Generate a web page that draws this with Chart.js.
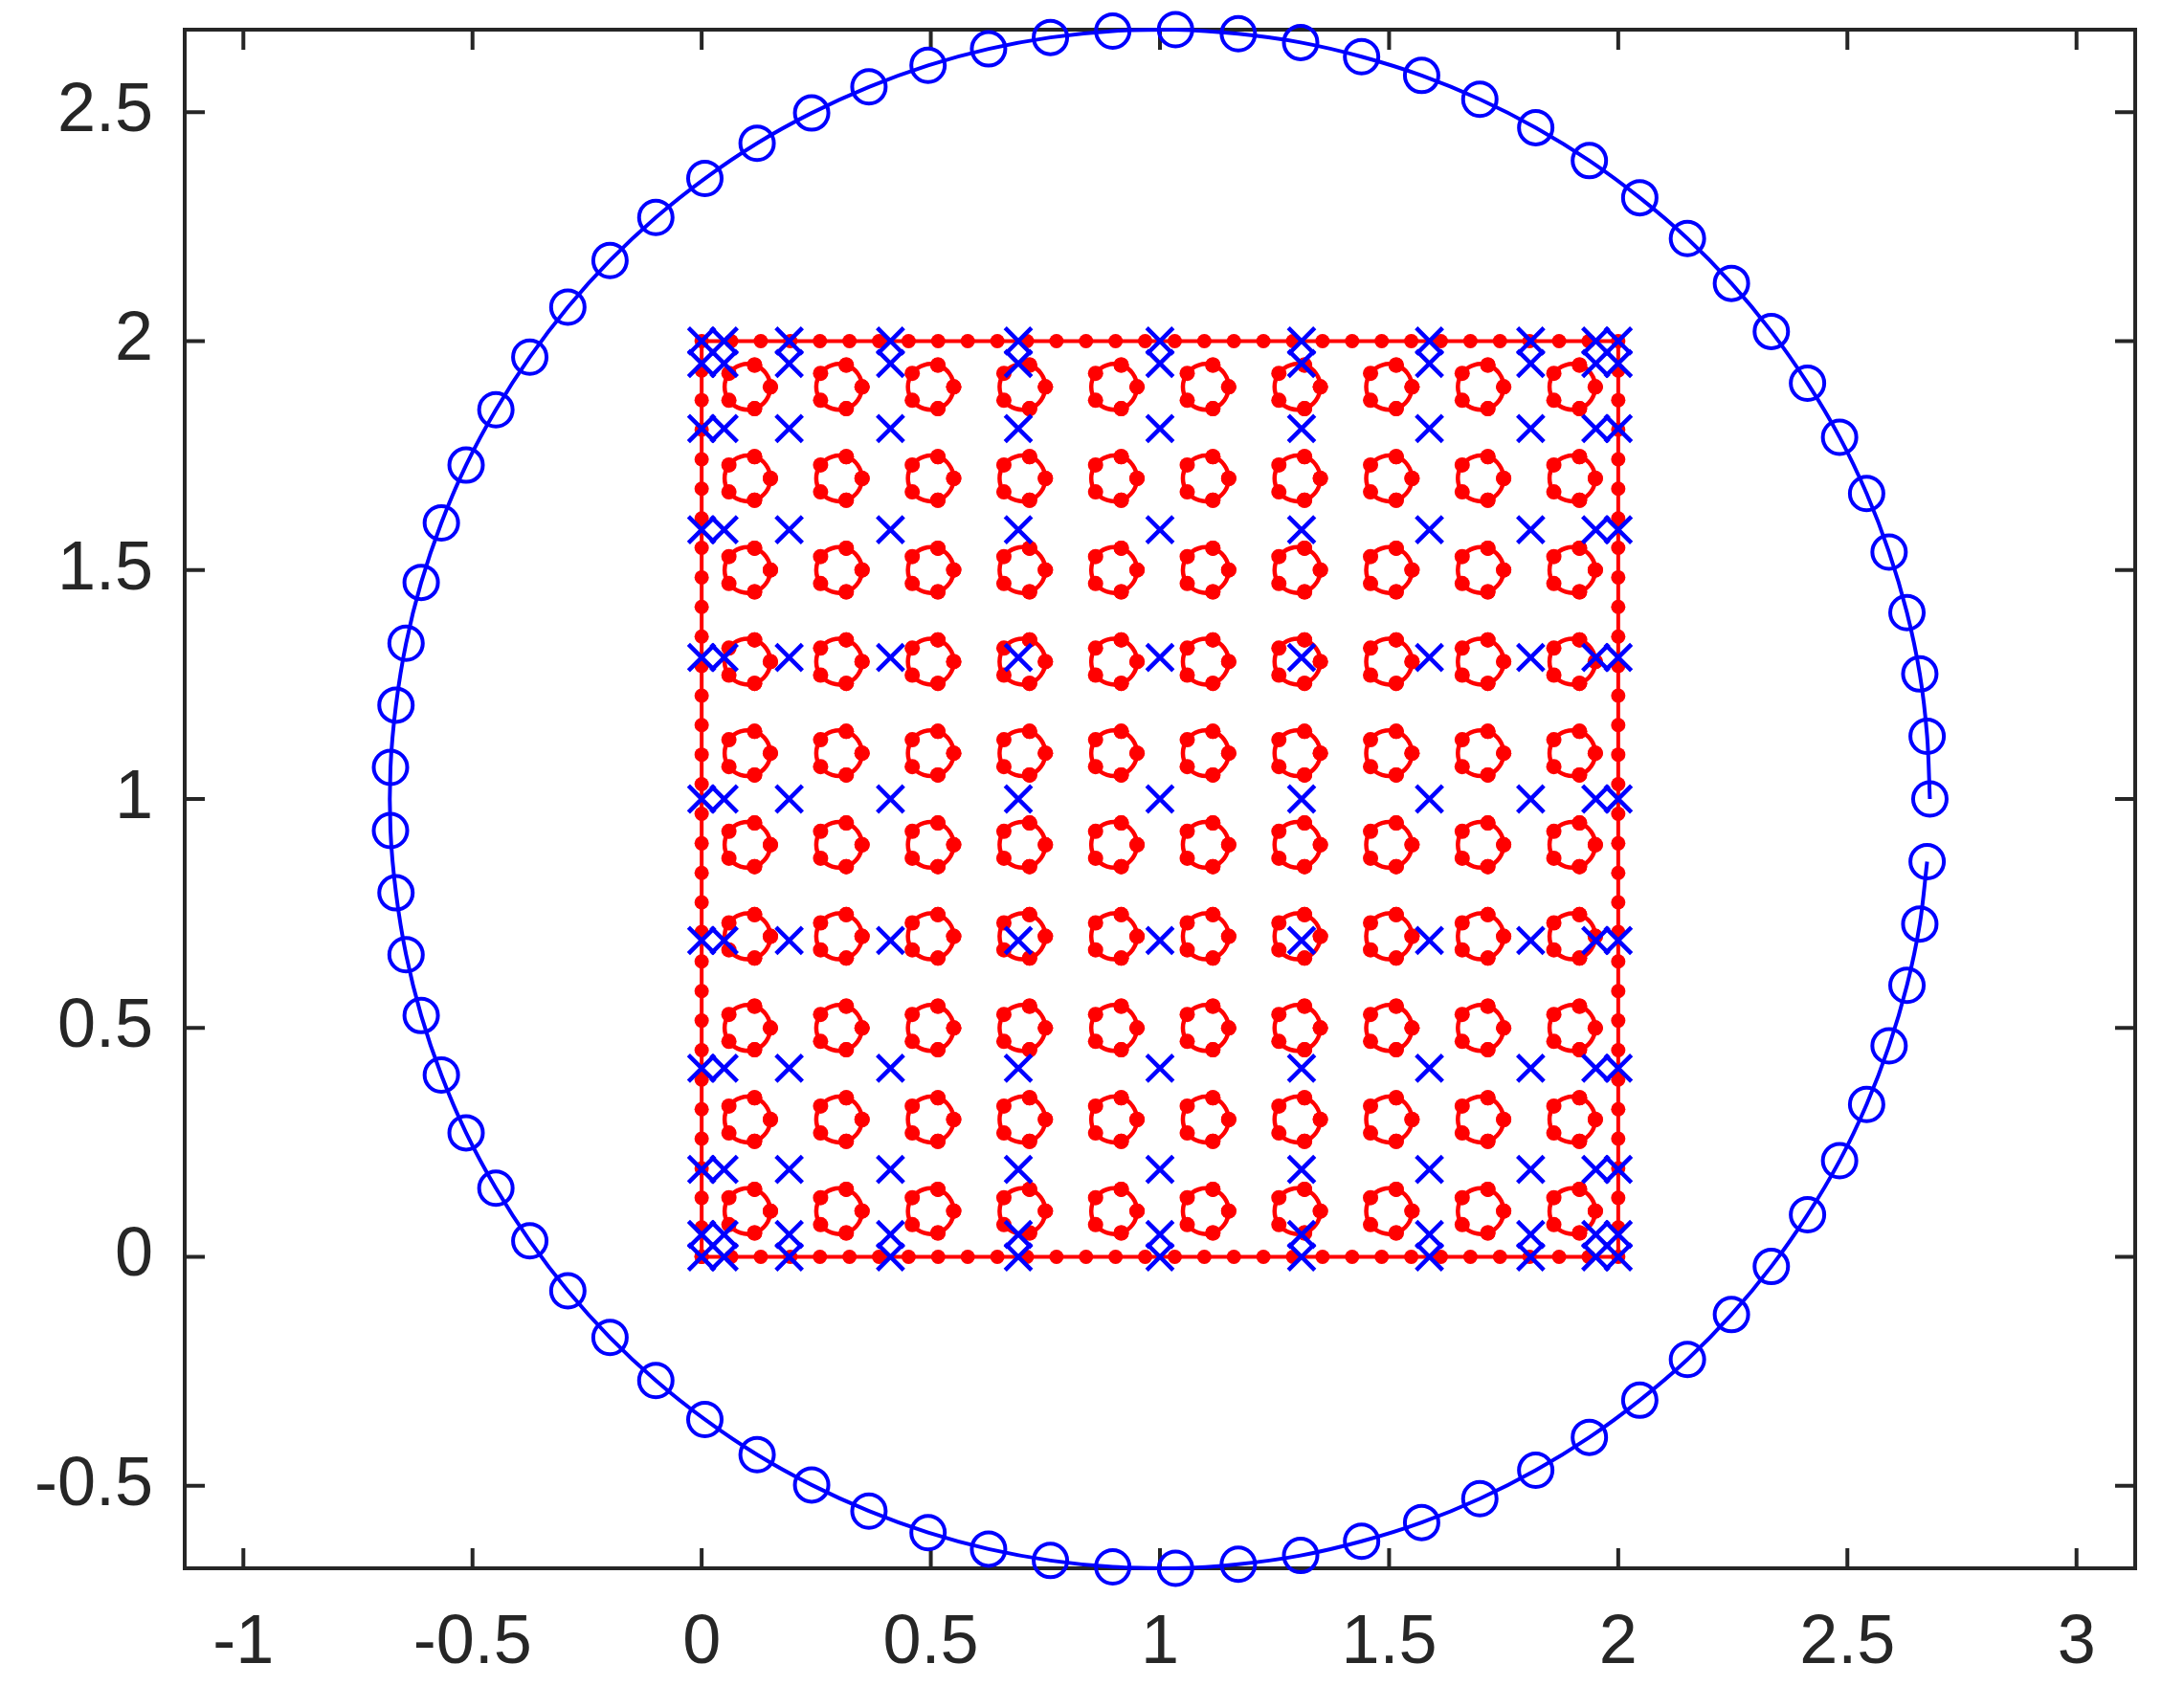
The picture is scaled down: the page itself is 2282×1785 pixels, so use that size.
<!DOCTYPE html>
<html>
<head>
<meta charset="utf-8">
<script src="https://cdn.jsdelivr.net/npm/chart.js@4.4.1/dist/chart.umd.min.js"></script>
<style>
  html, body { margin: 0; padding: 0; background: #ffffff; }
  canvas { display: block; }
</style>
</head>
<body>
<canvas id="myChart" width="2282" height="1785"></canvas>
<script>
// Big blue ring: 77 markers, open between the first and the last one
const ringX = [2.680, 2.674, 2.658, 2.630, 2.591, 2.542, 2.483, 2.413, 2.334, 2.247, 2.151, 2.047, 1.937, 1.820,
  1.698, 1.571, 1.440, 1.307, 1.171, 1.034, 0.897, 0.761, 0.626, 0.494, 0.365, 0.240, 0.121, 0.007, -0.100,
  -0.200, -0.292, -0.375, -0.449, -0.514, -0.568, -0.612, -0.645, -0.667, -0.679, -0.679, -0.667, -0.645,
  -0.612, -0.568, -0.514, -0.449, -0.375, -0.292, -0.200, -0.100, 0.007, 0.121, 0.240, 0.365, 0.494, 0.626,
  0.761, 0.897, 1.034, 1.171, 1.307, 1.440, 1.571, 1.698, 1.820, 1.937, 2.047, 2.151, 2.247, 2.334, 2.413,
  2.483, 2.542, 2.591, 2.630, 2.658, 2.674];
const ringY = [1.000, 1.137, 1.273, 1.407, 1.539, 1.667, 1.790, 1.908, 2.021, 2.126, 2.224, 2.313, 2.394, 2.466,
  2.528, 2.580, 2.621, 2.652, 2.671, 2.680, 2.677, 2.663, 2.638, 2.602, 2.555, 2.498, 2.432, 2.355, 2.270,
  2.176, 2.074, 1.965, 1.850, 1.729, 1.603, 1.473, 1.340, 1.205, 1.069, 0.931, 0.795, 0.660, 0.527, 0.397,
  0.271, 0.150, 0.035, -0.074, -0.176, -0.270, -0.355, -0.432, -0.498, -0.555, -0.602, -0.638, -0.663,
  -0.677, -0.680, -0.671, -0.652, -0.621, -0.580, -0.528, -0.466, -0.394, -0.313, -0.224, -0.126, -0.021,
  0.092, 0.210, 0.333, 0.461, 0.593, 0.727, 0.863];

// Red square outline: dot positions along each side
const edgeStops = [0, 0.0645, 0.1290, 0.1935, 0.2581, 0.3226, 0.3871, 0.4516, 0.5161, 0.5806, 0.6452, 0.7097,
  0.7742, 0.8387, 0.9032, 0.9677, 1.0323, 1.0968, 1.1613, 1.2258, 1.2903, 1.3548, 1.4194, 1.4839, 1.5484,
  1.6129, 1.6774, 1.7419, 1.8065, 1.8710, 1.9355, 2];

// Small red rings: cell centres and the 5 marker offsets around each centre
const cellCentres = [0.1, 0.3, 0.5, 0.7, 0.9, 1.1, 1.3, 1.5, 1.7, 1.9];
const petalDx = [0.05, 0.0155, -0.0405, -0.0405, 0.0155];
const petalDy = [0, 0.0476, 0.0294, -0.0294, -0.0476];

// Blue x markers: node values in both directions
const nodeValues = [0, 0.049, 0.191, 0.412, 0.691, 1, 1.309, 1.588, 1.809, 1.951, 2];

// Axis ticks
const xTickValues = [-1, -0.5, 0, 0.5, 1, 1.5, 2, 2.5, 3];
const xTickLabels = ['-1', '-0.5', '0', '0.5', '1', '1.5', '2', '2.5', '3'];
const yTickValues = [-0.5, 0, 0.5, 1, 1.5, 2, 2.5];
const yTickLabels = ['-0.5', '0', '0.5', '1', '1.5', '2', '2.5'];

const BLUE = '#0000FF';
const RED = '#FF0000';
const AXIS = '#262626';

function buildRing() {
    return ringX.map((x, i) => ({ x: x, y: ringY[i] }));
}

function buildSquare() {
    const last = edgeStops.length - 1;
    const pts = [];
    edgeStops.forEach(e => pts.push({ x: e, y: 0 }));                              // bottom
    edgeStops.slice(1).forEach(e => pts.push({ x: 2, y: e }));                     // right
    edgeStops.slice(1).forEach((e, i) => pts.push({ x: edgeStops[last - 1 - i], y: 2 })); // top
    edgeStops.slice(1).forEach((e, i) => pts.push({ x: 0, y: edgeStops[last - 1 - i] })); // left
    return pts;
}

function buildNodes() {
    const pts = [];
    nodeValues.forEach(yv => nodeValues.forEach(xv => pts.push({ x: xv, y: yv })));
    return pts;
}

// wrap order so the closing segment is smooth; first and last segments get hidden
const petalOrder = [4, 0, 1, 2, 3, 4, 0, 1];
const hideSegment = ctx => (ctx.p0DataIndex === 0 || ctx.p0DataIndex === petalOrder.length - 2) ? 'rgba(0,0,0,0)' : undefined;

function buildPetals() {
    const sets = [];
    cellCentres.forEach(cy => {
        cellCentres.forEach(cx => {
            sets.push({
                data: petalOrder.map(k => ({ x: cx + petalDx[k], y: cy + petalDy[k] })),
                showLine: true,
                borderColor: RED,
                borderWidth: 4.5,
                tension: 0.45,
                segment: { borderColor: hideSegment },
                pointStyle: 'circle',
                pointRadius: 8,
                pointBorderWidth: 0,
                pointBackgroundColor: RED,
                clip: false,
                order: 3
            });
        });
    });
    return sets;
}

// MATLAB style box with inward ticks on all four sides
const matlabFrame = {
    id: 'matlabFrame',
    beforeDatasetsDraw(chart) {
        const { ctx, chartArea: a, scales } = chart;
        const tick = 21;
        ctx.save();
        ctx.strokeStyle = AXIS;
        ctx.lineWidth = 4;
        ctx.strokeRect(a.left, a.top, a.right - a.left, a.bottom - a.top);
        ctx.beginPath();
        xTickValues.forEach(v => {
            const px = scales.x.getPixelForValue(v);
            ctx.moveTo(px, a.bottom); ctx.lineTo(px, a.bottom - tick);
            ctx.moveTo(px, a.top); ctx.lineTo(px, a.top + tick);
        });
        yTickValues.forEach(v => {
            const py = scales.y.getPixelForValue(v);
            ctx.moveTo(a.left, py); ctx.lineTo(a.left + tick, py);
            ctx.moveTo(a.right, py); ctx.lineTo(a.right - tick, py);
        });
        ctx.stroke();
        ctx.restore();
    }
};

// keep the plot box where it is in the original (no extra label padding)
function noScalePadding(s) {
    s.paddingTop = 0;
    s.paddingBottom = 0;
    s.paddingLeft = 0;
    s.paddingRight = 0;
}

function renderChart() {
    const ctx = document.getElementById('myChart').getContext('2d');
    const tickFont = { family: '"Liberation Sans", Arial, Helvetica, sans-serif', size: 72 };

    const datasets = [
        {
            data: buildNodes(),
            showLine: false,
            pointStyle: 'crossRot',
            pointRadius: 19.5,
            pointBorderWidth: 4.5,
            pointBorderColor: BLUE,
            clip: false,
            order: 0
        },
        {
            data: buildRing(),
            showLine: true,
            borderColor: BLUE,
            borderWidth: 4,
            tension: 0.33,
            pointStyle: 'circle',
            pointRadius: 17.5,
            pointBorderWidth: 4,
            pointBorderColor: BLUE,
            pointBackgroundColor: 'rgba(0,0,0,0)',
            clip: false,
            order: 1
        },
        {
            data: buildSquare(),
            showLine: true,
            borderColor: RED,
            borderWidth: 4,
            pointStyle: 'circle',
            pointRadius: 7.5,
            pointBorderWidth: 0,
            pointBackgroundColor: RED,
            clip: false,
            order: 2
        }
    ].concat(buildPetals());

    const config = {
        type: 'scatter',
        data: { datasets: datasets },
        options: {
            responsive: false,
            animation: false,
            devicePixelRatio: 1,
            events: [],
            layout: { padding: { top: 31, right: 51, left: 0, bottom: 0 } },
            plugins: { legend: { display: false }, tooltip: { enabled: false } },
            scales: {
                x: {
                    type: 'linear',
                    min: -1.128,
                    max: 3.128,
                    grid: { display: false, drawTicks: false },
                    border: { display: false },
                    afterBuildTicks: s => { s.ticks = xTickValues.map(v => ({ value: v })); },
                    afterFit: s => { s.height = 146; noScalePadding(s); },
                    ticks: {
                        padding: 36,
                        color: AXIS,
                        font: tickFont,
                        maxRotation: 0,
                        autoSkip: false,
                        includeBounds: false,
                        callback: (v, i) => xTickLabels[i]
                    }
                },
                y: {
                    type: 'linear',
                    min: -0.68,
                    max: 2.68,
                    grid: { display: false, drawTicks: false },
                    border: { display: false },
                    afterBuildTicks: s => { s.ticks = yTickValues.map(v => ({ value: v })); },
                    afterFit: s => { s.width = 193; noScalePadding(s); },
                    ticks: {
                        padding: 33,
                        color: AXIS,
                        font: tickFont,
                        autoSkip: false,
                        includeBounds: false,
                        callback: (v, i) => yTickLabels[i]
                    }
                }
            }
        },
        plugins: [matlabFrame]
    };

    new Chart(ctx, config);
}

renderChart();
</script>
</body>
</html>
